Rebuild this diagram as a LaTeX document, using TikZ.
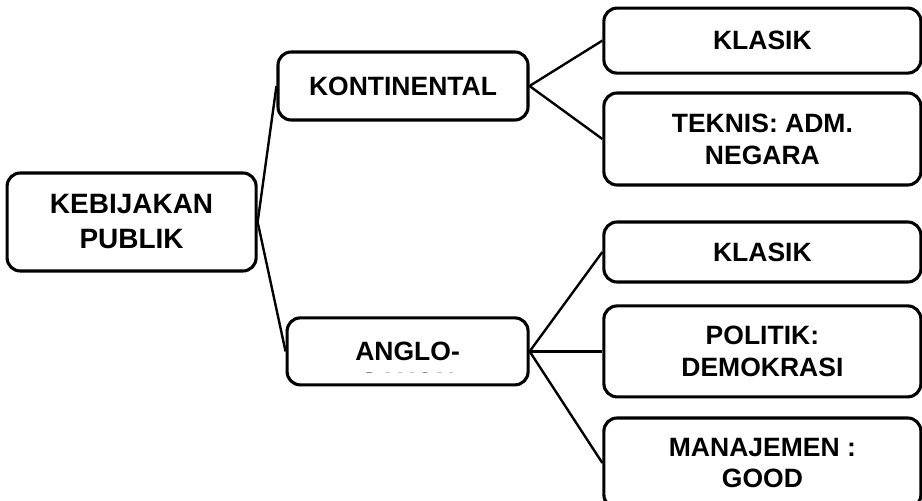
\documentclass[tikz,border=0pt]{standalone}
\usepackage{fontspec}
\setmainfont{Liberation Sans}
\usepackage{tikz}
\usetikzlibrary{positioning}
\tikzset{
  topicbox/.style={draw,line width=2.2pt,rounded corners=.33cm,align=center,inner sep=0pt,
    font=\bfseries\fontsize{18.85}{22.7}\selectfont},
  branch/.style={line width=1.7pt}
}

\begin{document}
\begin{tikzpicture}
    \useasboundingbox (0,0) rectangle (23.05,12.525);
    \node[topicbox,minimum width=6.225cm,minimum height=2.45cm,
      font=\bfseries\fontsize{19.9}{24.9}\selectfont] (kebijakan) at (3.29,6.975) {KEBIJAKAN\\PUBLIK};
    \node[topicbox,minimum width=6.25cm,minimum height=1.7cm] (kontinental) at (10.075,10.375) {KONTINENTAL};
    \node[topicbox,minimum width=6.025cm,minimum height=1.675cm] (anglo) at (10.19,3.74) {ANGLO-};
    % second line does not fit in the box
    \begin{scope}
      \clip (anglo.north west) rectangle ([yshift=-.525cm]anglo.east);
      \node[font=\bfseries\fontsize{18.85}{22.7}\selectfont] (saxon) at ([yshift=-.775cm]anglo.center) {SAXON};
    \end{scope}
    \foreach \name/\yy/\hh/\txt in {klasikA/11.51/1.625/KLASIK,teknis/9.05/2.3/{TEKNIS: ADM.\\NEGARA},
      klasikB/6.225/1.5/KLASIK,politik/3.74/2.275/{POLITIK:\\DEMOKRASI},manajemen/.95/2.25/{MANAJEMEN :\\GOOD}}{
      \node[topicbox,minimum width=7.925cm,minimum height=\hh cm] (\name) at (19.06,\yy) {\txt};
    }
    \foreach \a/\b in {kebijakan/kontinental,kebijakan/anglo,kontinental/klasikA,kontinental/teknis,
      anglo/klasikB,anglo/politik,anglo/manajemen}
      \draw[branch] (\a.east) -- (\b.west);
  \end{tikzpicture}
\end{document}
